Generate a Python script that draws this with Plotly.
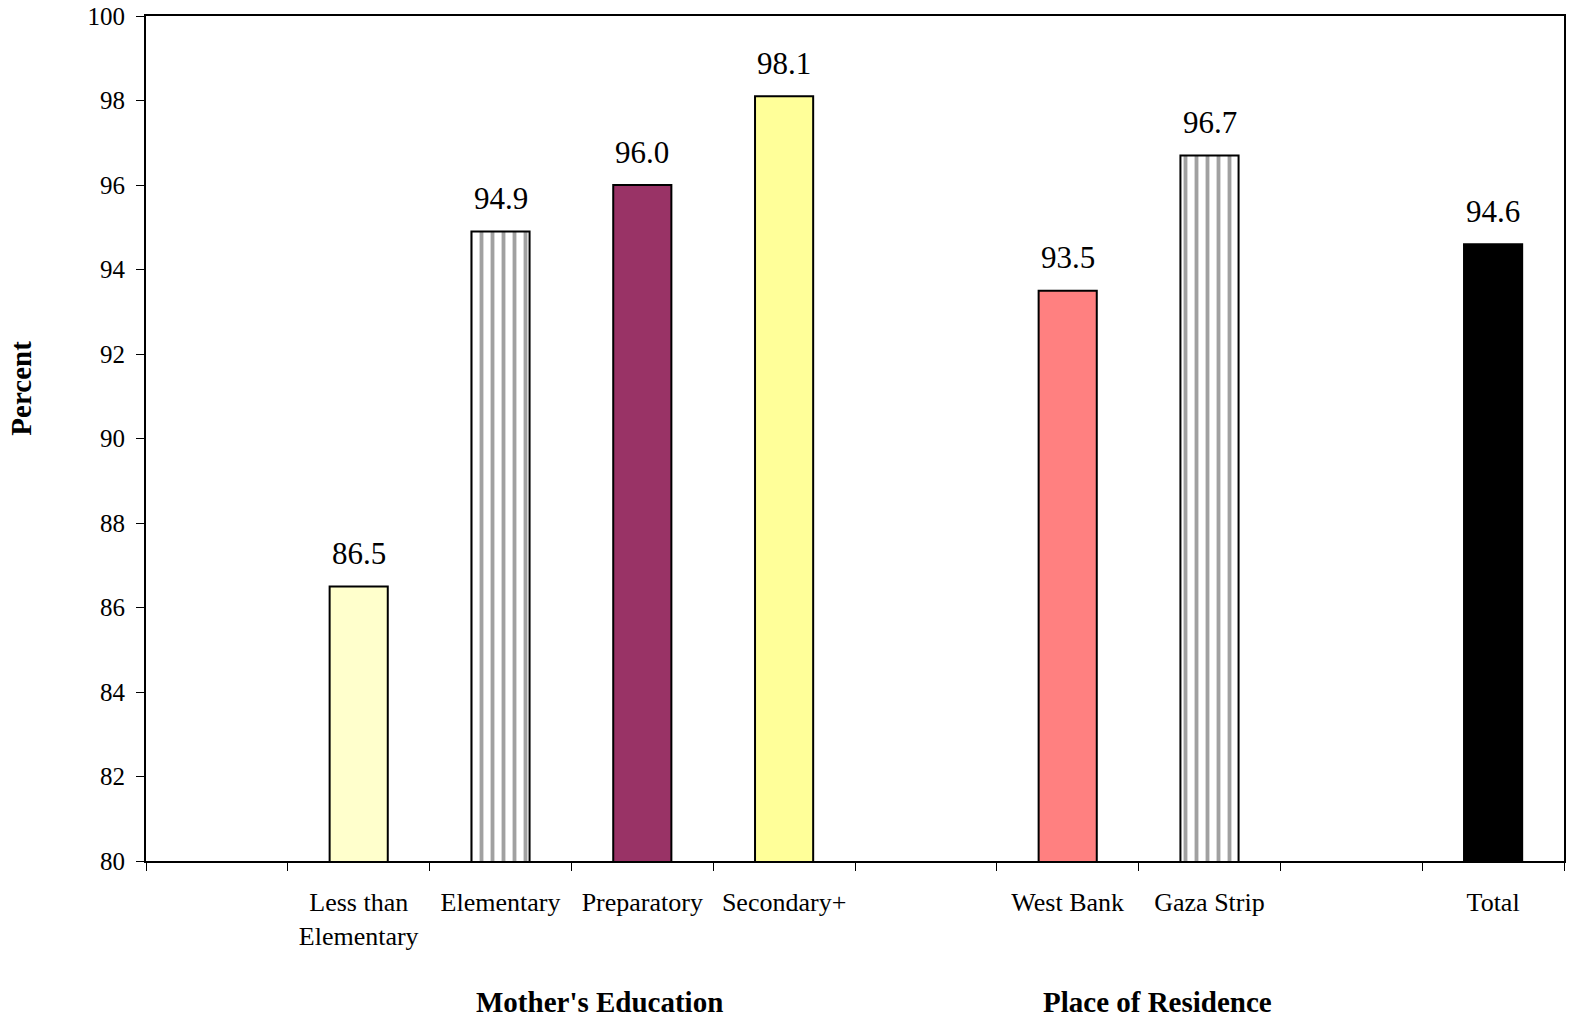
import plotly.graph_objects as go

slots = ["", "Less than<br>Elementary", "Elementary", "Preparatory", "Secondary+", " ",
         "West Bank", "Gaza Strip", "  ", "Total"]
categories = ["Less than<br>Elementary", "Elementary", "Preparatory", "Secondary+",
              "West Bank", "Gaza Strip", "Total"]
values = [86.5, 94.9, 96.0, 98.1, 93.5, 96.7, 94.6]
colors = ["#FFFFCC", "#FFFFFF", "#993366", "#FFFF99", "#FF8080", "#FFFFFF", "#000000"]
patterns = ["", "|", "", "", "", "|", ""]
group_titles = ["Mother's Education", "Place of Residence"]
yticks = list(range(80, 101, 2))

FONT = "Liberation Serif, Times New Roman, serif"

fig = go.Figure()
fig.add_trace(go.Bar(
    x=categories, y=values, width=0.41,
    marker=dict(color=colors, line=dict(color="black", width=2),
                pattern=dict(shape=patterns, fgcolor="black", bgcolor="white",
                             size=11, solidity=0.35, fillmode="overlay")),
    cliponaxis=False,
))

annotations = [
    dict(text=f"{v:.1f}", x=c, y=v, xref="x", yref="y", yshift=33, showarrow=False,
         yanchor="middle", font=dict(family=FONT, size=31, color="black"))
    for c, v in zip(categories, values)
]
annotations += [
    dict(text="<b>Percent</b>", xref="paper", yref="paper", x=0, y=0.559,
         xshift=-143, textangle=-90, showarrow=False,
         font=dict(family=FONT, size=29, color="black")),
    dict(text=f"<b>{group_titles[0]}</b>", xref="x", yref="paper", x=2.7, y=0,
         yshift=-159, showarrow=False, font=dict(family=FONT, size=29, color="black")),
    dict(text=f"<b>{group_titles[1]}</b>", xref="x", yref="paper", x=6.63, y=0,
         yshift=-159, showarrow=False, font=dict(family=FONT, size=29, color="black")),
]

fig.update_layout(
    width=1569, height=1020,
    margin=dict(l=146, r=3, t=15, b=159),
    plot_bgcolor="white", paper_bgcolor="white",
    showlegend=False,
    font=dict(family=FONT, size=26, color="black"),
    xaxis=dict(type="category", categoryorder="array", categoryarray=slots,
               range=[-0.5, 9.5], tickson="boundaries", ticks="outside", ticklen=8,
               tickwidth=1, tickcolor="black", showline=True, linecolor="black",
               linewidth=2, mirror=True, showgrid=False, ticklabelstandoff=17,
               tickfont=dict(family=FONT, size=26, color="black")),
    yaxis=dict(range=[80, 100], tickvals=yticks, ticks="outside", ticklen=8,
               tickwidth=1, tickcolor="black", showline=True, linecolor="black",
               linewidth=2, mirror=True, showgrid=False, zeroline=False,
               ticklabelstandoff=6,
               tickfont=dict(family=FONT, size=25, color="black")),
    annotations=annotations,
)

fig.write_html("out.html", config={"displayModeBar": False},
               post_script="document.body.style.margin='0';")
